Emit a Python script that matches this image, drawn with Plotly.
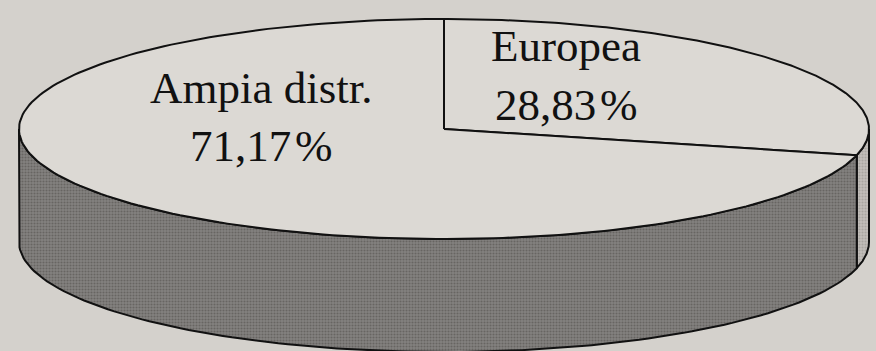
import numpy as np
import plotly.graph_objects as go

# Shares of the two distribution types (percent)
labels = ["Europea", "Ampia distr."]
values = [28.83, 71.17]

# Pixel-space geometry of the tilted disc
W, H = 876, 351
cx, cy = 444, 129
rx, ry = 425, 110
depth = 113

BG = "#d4d1cc"
TOP = "#dcd9d4"
WALL = {"Europea": ("#c2bfba", "#8f8c87"), "Ampia distr.": ("#84827f", "#4a4845")}


def rim(t0, t1, dy=0.0, n=120):
    t = np.radians(np.linspace(t0, t1, n))
    return cx + rx * np.sin(t), cy - ry * np.cos(t) + dy


fig = go.Figure()

# Cumulative angles, clockwise from twelve o'clock
total = sum(values)
bounds = np.concatenate([[0.0], np.cumsum(values) / total * 360.0])

# Visible outer walls (front half of the disc, 90..270 degrees)
for lab, a0, a1 in zip(labels, bounds[:-1], bounds[1:]):
    s0, s1 = max(a0, 90.0), min(a1, 270.0)
    if s1 <= s0:
        continue
    xt, yt = rim(s0, s1)
    xb, yb = rim(s1, s0, depth)
    xs = np.concatenate([xt, xb, xt[:1]])
    ys = np.concatenate([yt, yb, yt[:1]])
    bg, fg = WALL[lab]
    fig.add_trace(go.Scatter(
        x=xs, y=ys, mode="lines", fill="toself",
        fillcolor=bg,
        fillpattern=dict(shape=".", bgcolor=bg, fgcolor=fg, size=3, solidity=0.4),
        line=dict(color="#111111", width=2), hoverinfo="skip", showlegend=False))

# Top face sectors
for lab, a0, a1 in zip(labels, bounds[:-1], bounds[1:]):
    xa, ya = rim(a0, a1, n=200)
    xs = np.concatenate([[cx], xa, [cx]])
    ys = np.concatenate([[cy], ya, [cy]])
    fig.add_trace(go.Scatter(
        x=xs, y=ys, mode="lines", fill="toself", fillcolor=TOP,
        line=dict(color="#111111", width=2), hoverinfo="skip", showlegend=False))


def pct(v):
    return f"{v:.2f}".replace(".", ",") + "\u200a%"


font = dict(family="Liberation Serif, Times New Roman, serif", size=45, color="#111111")
label_pos = {"Ampia distr.": (261, 88, 146), "Europea": (566, 46, 105)}
for lab, v in zip(labels, values):
    x, y1, y2 = label_pos[lab]
    fig.add_annotation(x=x, y=y1, text=lab, showarrow=False, font=font,
                       xanchor="center", yanchor="middle")
    fig.add_annotation(x=x, y=y2, text=pct(v), showarrow=False, font=font,
                       xanchor="center", yanchor="middle")

fig.update_layout(
    width=W, height=H, margin=dict(l=0, r=0, t=0, b=0),
    paper_bgcolor=BG, plot_bgcolor=BG,
    xaxis=dict(range=[0, W], visible=False, fixedrange=True),
    yaxis=dict(range=[H, 0], visible=False, fixedrange=True),
    showlegend=False,
)

fig.write_html("out.html")
